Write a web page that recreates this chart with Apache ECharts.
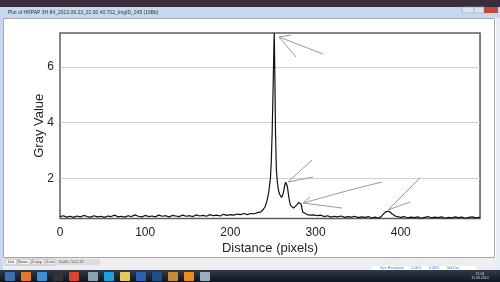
<!DOCTYPE html>
<html><head><meta charset="utf-8">
<script src="https://cdn.jsdelivr.net/npm/echarts@6/dist/echarts.min.js"></script>
<style>html,body{margin:0;padding:0;background:#fff}#c{width:500px;height:282px}</style>
</head><body><div id="c"></div>
<script>
// Profile data
var distance = [0,4,8,12,16,20,24,28,32,36,40,44,48,52,56,60,64,68,72,76,80,84,88,92,96,100,104,108,112,116,120,124,128,132,136,140,144,148,152,156,160,164,168,172,176,180,184,188,192,196,200,204,208,212,216,220,224,228,232,236,239,241,243,245,246,247,248,249,250,251,251.5,252,253,254,255,256,257,258,259,260,261,262,263,264,265,266,267,268,269,270,271,272,274,276,278,280,281.5,283,284,285,287,290,294,298,302,306,310,314,318,322,326,330,334,338,342,346,350,354,358,362,366,370,374,376,378,380,382,384,386,388,390,392,394,396,400,404,408,412,416,420,424,428,432,436,440,444,448,452,456,460,464,468,472,476,480,484,488,493];
var grayValue = [0.63,0.66,0.61,0.64,0.60,0.65,0.62,0.67,0.63,0.61,0.66,0.62,0.64,0.60,0.65,0.63,0.68,0.62,0.64,0.61,0.66,0.63,0.69,0.64,0.62,0.67,0.63,0.65,0.62,0.68,0.64,0.66,0.62,0.67,0.65,0.63,0.68,0.64,0.66,0.63,0.69,0.65,0.67,0.64,0.70,0.66,0.68,0.65,0.71,0.67,0.70,0.68,0.72,0.70,0.74,0.70,0.74,0.73,0.77,0.80,0.90,1.00,1.20,1.50,1.75,2.00,2.60,3.60,5.00,6.60,7.21,6.20,3.60,2.30,1.90,1.65,1.50,1.42,1.35,1.31,1.32,1.45,1.62,1.78,1.86,1.84,1.70,1.45,1.25,1.10,1.02,0.96,0.93,0.97,1.05,1.13,1.16,1.08,0.92,0.79,0.72,0.70,0.68,0.69,0.66,0.68,0.63,0.66,0.61,0.64,0.62,0.65,0.60,0.63,0.61,0.64,0.59,0.62,0.60,0.63,0.58,0.61,0.57,0.62,0.66,0.72,0.80,0.84,0.82,0.76,0.72,0.68,0.64,0.62,0.60,0.63,0.58,0.61,0.59,0.62,0.57,0.60,0.63,0.58,0.61,0.59,0.62,0.57,0.60,0.58,0.62,0.59,0.61,0.57,0.60,0.62,0.58,0.60,0.59];
var xTicks = [0,100,200,300,400];
var yTicks = [2,4,6];
var xTitle = 'Distance (pixels)';
var yTitle = 'Gray Value';
var windowTitle = 'Plot of HRPAP 3H 84_2013.09.23_21.00.40.702_ImgID_245 (16Bit)';

var pts = distance.map(function(d,i){return [d, grayValue[i]];});
var chart = echarts.init(document.getElementById('c'), null, {renderer:'canvas'});
var font = 'Liberation Sans, Arial, sans-serif';
function ln(points){return {type:'polyline', shape:{points:points}, style:{stroke:'#9a9a9a', lineWidth:1, fill:null}, z:50};}
function btn(x,w,t){return [{type:'rect', shape:{x:x,y:259,width:w,height:6}, style:{fill:'#f2f2f2', stroke:'#9a9a9a', lineWidth:0.6}, z:5},
 {type:'text', x:x+w/2, y:262, style:{text:t, fill:'#333', font:'4px '+font, align:'center', verticalAlign:'middle'}, z:6}];}
var icons = [[3,'#3b6fb0'],[19,'#e8762b'],[35,'#3d8fd6'],[51,'#303438'],[67,'#d6452f'],[86,'#8aa2b0'],[102,'#1da1e0'],[118,'#e8c85a'],[134,'#2a5fb4'],[150,'#1f4d8c'],[166,'#c98a3a'],[182,'#f08c1a'],[198,'#9ab0c0']];
var graphics = [
 {type:'rect', shape:{x:0,y:0,width:500,height:7}, style:{fill:'#3a2d3c'}, z:0},
 {type:'rect', shape:{x:0,y:7,width:500,height:11}, style:{fill:'#c7d9ef'}, z:0},
 {type:'text', x:8, y:12.5, style:{text:windowTitle, fill:'#333', font:'5px '+font, verticalAlign:'middle'}, z:2},
 {type:'rect', shape:{x:462,y:7,width:12,height:6}, style:{fill:'#d7e3f1', stroke:'#8aa0b8', lineWidth:0.5}, z:2},
 {type:'rect', shape:{x:474,y:7,width:10,height:6}, style:{fill:'#d7e3f1', stroke:'#8aa0b8', lineWidth:0.5}, z:2},
 {type:'rect', shape:{x:484,y:7,width:14,height:6}, style:{fill:'#c9463d'}, z:2},
 {type:'rect', shape:{x:0,y:18,width:3,height:252}, style:{fill:'#c7d9ef'}, z:0},
 {type:'rect', shape:{x:496,y:18,width:4,height:252}, style:{fill:'#e9eef4'}, z:0},
 {type:'rect', shape:{x:3.5,y:18.5,width:491,height:239}, style:{fill:null, stroke:'#a8a8a8', lineWidth:1}, z:1},
 {type:'rect', shape:{x:3,y:258,width:493,height:12}, style:{fill:'#eeeeee'}, z:1},
 {type:'rect', shape:{x:56,y:259,width:44,height:6}, style:{fill:'#dcdcdc'}, z:5},
 {type:'text', x:59, y:262, style:{text:'X=00, Y=1.13', fill:'#555', font:'4px '+font, verticalAlign:'middle'}, z:6},
 {type:'rect', shape:{x:372,y:266,width:104,height:4}, style:{fill:'#ffffff'}, z:3},
 {type:'text', x:380, y:268, style:{text:'Size Histogram        0.00%        0.00%        Std.Dev', fill:'#3a78d8', font:'3.5px '+font, verticalAlign:'middle'}, z:4},
 {type:'rect', shape:{x:0,y:270,width:500,height:12}, style:{fill:new echarts.graphic.LinearGradient(0,0,0,1,[{offset:0,color:'#2f3a48'},{offset:1,color:'#10161e'}])}, z:2},
 {type:'text', x:480, y:276, style:{text:'21:04\n11.03.2014', fill:'#dde', font:'3.5px '+font, align:'center', verticalAlign:'middle'}, z:4},
 ln([[291,35],[279,37],[296,57]]), ln([[279,37],[323,54]]),
 ln([[312,160],[288,182],[313,177]]),
 ln([[310,197],[303,203],[342,208]]), ln([[303,203],[350,190],[382,182]]),
 ln([[420,178],[388,210],[410,202]])
];
btn(5,12,'List').concat(btn(18,13,'Save...'),btn(32,13,'Copy...'),btn(46,9,'Live')).forEach(function(g){graphics.push(g);});
icons.forEach(function(ic){graphics.push({type:'rect', shape:{x:ic[0]+2,y:272,width:10,height:9,r:1}, style:{fill:ic[1]}, z:3});});

chart.setOption({
 animation:false,
 backgroundColor:'#ffffff',
 grid:{left:60, top:33, right:20, bottom:63.5, show:true, borderColor:'#5e5e5e', borderWidth:1.5, backgroundColor:'#fff', z:3},
 xAxis:{type:'value', min:0, max:493, interval:100, name:xTitle, nameLocation:'middle', nameGap:23, nameMoveOverlap:false,
  nameTextStyle:{fontFamily:font, fontSize:13, color:'#222'},
  axisLine:{show:false}, axisTick:{show:false},
  axisLabel:{fontFamily:font, fontSize:12, color:'#222', margin:8, showMaxLabel:false},
  splitLine:{show:true, lineStyle:{color:'#cfcfcf', width:1}}},
 yAxis:{type:'value', min:0.56, max:7.21, name:yTitle, nameLocation:'middle', nameGap:14, nameMoveOverlap:false,
  nameTextStyle:{fontFamily:font, fontSize:13, color:'#222'},
  axisLine:{show:false}, axisTick:{show:false},
  axisLabel:{fontFamily:font, fontSize:12, color:'#222', margin:6, customValues:yTicks},
  splitLine:{show:false}},
 series:[{type:'line', data:pts, showSymbol:false, symbol:'none', z:10,
  lineStyle:{color:'#111', width:1.2}, 
  markLine:{silent:true, symbol:'none', label:{show:false}, z:4,
   lineStyle:{color:'#cfcfcf', width:1, type:'solid'},
   data:yTicks.map(function(v){return {yAxis:v};})}}],
 graphic:graphics
});
</script></body></html>
